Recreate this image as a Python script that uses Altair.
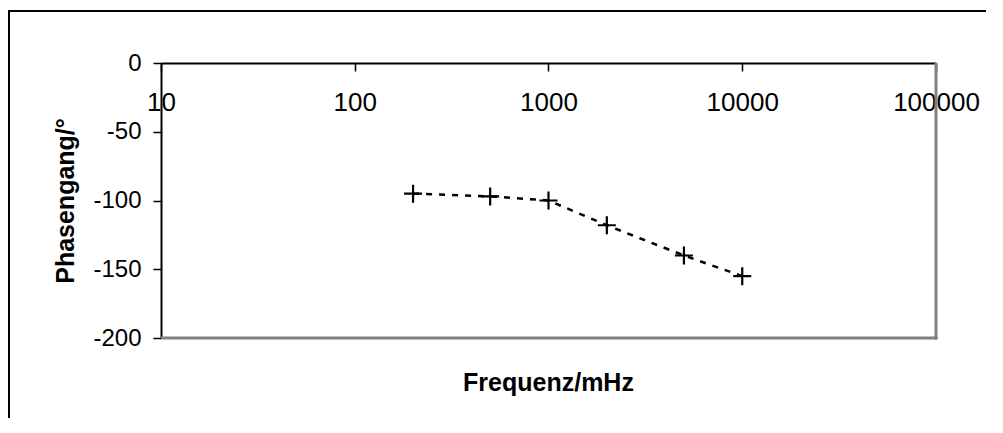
import altair as alt
import pandas as pd

freq = [200, 500, 1000, 2000, 5000, 10000]
phase = [-95, -97, -100, -118, -140, -155]
x_ticks = [10, 100, 1000, 10000, 100000]
y_ticks = [0, -50, -100, -150, -200]

df = pd.DataFrame({"f": freq, "p": phase})

FONT = "Liberation Sans"
W, H = 775, 275
GRAY = "#808080"

x_enc = alt.X(
    "f:Q",
    scale=alt.Scale(type="log", domain=[10, 100000], nice=False),
    axis=alt.Axis(
        orient="bottom", offset=-H, values=x_ticks, labelExpr="'' + datum.value",
        title=None, grid=False, domainColor="black", domainWidth=2,
        tickColor="black", tickSize=8, tickWidth=1.5, labelPadding=18,
        labelFont=FONT, labelFontSize=26, labelColor="black",
        labelOverlap=False, labelFlush=False,
    ),
)
y_enc = alt.Y(
    "p:Q",
    scale=alt.Scale(domain=[-200, 0], nice=False, zero=False),
    axis=alt.Axis(
        values=y_ticks, labelExpr="'' + datum.value",
        title="Phasengang/°", titleFont=FONT, titleFontSize=25, titleFontWeight="bold",
        titleColor="black", titlePadding=14,
        grid=False, domainColor="black", domainWidth=2,
        tickColor="black", tickSize=8, tickWidth=1.5, labelPadding=12,
        labelFont=FONT, labelFontSize=24, labelColor="black",
    ),
)

one = pd.DataFrame({"a": [0]})

frame_right = alt.Chart(one).mark_rule(color=GRAY, strokeWidth=3).encode(
    x=alt.value(W), y=alt.value(0), y2=alt.value(H + 1.5)
)
frame_bottom = alt.Chart(one).mark_rule(color=GRAY, strokeWidth=3).encode(
    x=alt.value(0), x2=alt.value(W + 1.5), y=alt.value(H)
)

line = alt.Chart(df).mark_line(
    color="black", strokeWidth=2.5, strokeDash=[6, 7]
).encode(x=x_enc, y=y_enc)

pts = alt.Chart(df).mark_point(
    shape="M-1,0L1,0M0,-1L0,1", size=324, filled=False,
    color="black", strokeWidth=2.2, opacity=1
).encode(x="f:Q", y="p:Q")

xtitle = alt.Chart(pd.DataFrame({"t": ["Frequenz/mHz"]})).mark_text(
    font=FONT, fontSize=25, fontWeight="bold", color="black", baseline="middle"
).encode(x=alt.value(W / 2), y=alt.value(H + 45), text="t:N")

border = alt.Chart(one).mark_rect(
    fill=None, stroke="black", strokeWidth=2, clip=False
).encode(
    x=alt.value(-152), x2=alt.value(W + 80),
    y=alt.value(-52), y2=alt.value(H + 120),
)

chart = alt.layer(border, frame_right, frame_bottom, line, pts, xtitle).properties(
    width=W, height=H,
    autosize=alt.AutoSizeParams(type="none"),
    padding={"left": 153, "top": 55, "right": 50, "bottom": 80},
).configure_view(
    strokeWidth=0
).configure(background="white")

chart.save("out.html", embed_options={"renderer": "svg", "actions": False})
